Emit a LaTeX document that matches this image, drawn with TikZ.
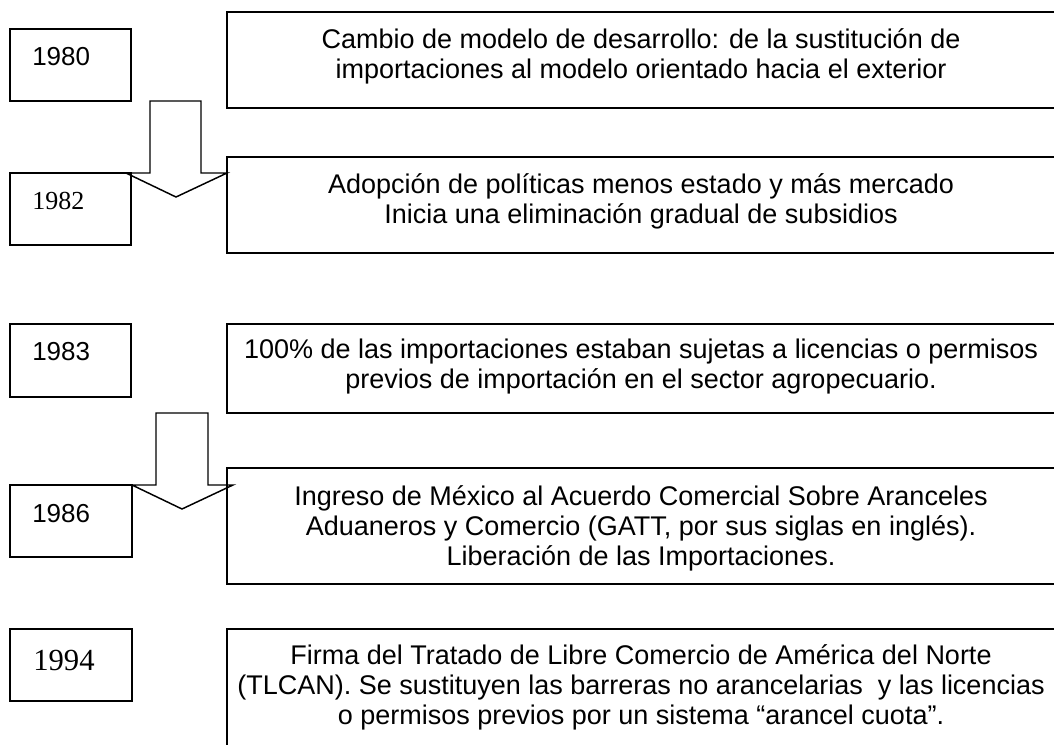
\documentclass[tikz,border=0pt]{standalone}
\usepackage{fontspec}
\setmainfont{Liberation Sans}
\newfontfamily\tnrfont{Liberation Serif}
\usetikzlibrary{fit}
\tikzset{
  frame/.style={draw, line width=1.1pt, inner sep=0pt, rectangle},
  yeartxt/.style={anchor=base west, inner sep=0pt, font=\fontsize{19.5}{22}\selectfont},
  yeartnr/.style={anchor=base west, inner sep=0pt, font=\fontsize{19.5}{22}\tnrfont},
  bodytxt/.style={anchor=north, inner sep=0pt, align=center, font=\fontsize{20.25}{22.5}\selectfont},
  blockarrow/.style={draw, line width=1.1pt, line join=miter}
}
\begin{document}
\begin{tikzpicture}[x=0.75pt, y=-0.75pt]
\useasboundingbox (0,0) rectangle (1054,744);
\clip (0,0) rectangle (1054,744);
% year boxes
\node[frame, fit={(10,29) (131,101)}] (y1980) {};
\node[frame, fit={(10,173) (131,245)}] (y1982) {};
\node[frame, fit={(10,324) (131,397)}] (y1983) {};
\node[frame, fit={(10,485) (132,557)}] (y1986) {};
\node[frame, fit={(10,629) (132,701)}] (y1994) {};
% right boxes
\node[frame, fit={(227,12) (1070,108)}] (r1) {};
\node[frame, fit={(227,157) (1070,253)}] (r2) {};
\node[frame, fit={(227,324) (1070,413)}] (r3) {};
\node[frame, fit={(227,468) (1070,584)}] (r4) {};
\node[frame, fit={(227,629) (1070,770)}] (r5) {};
% year labels
\node[yeartxt] (t1980) at (32,65) {1980};
\node[yeartnr] (t1982) at (32,209) {1982};
\node[yeartxt] (t1983) at (32,360) {1983};
\node[yeartxt] (t1986) at (32,522) {1986};
\node[anchor=base west, inner sep=0pt, font=\fontsize{23}{26}\tnrfont] (t1994) at (33,670) {1994};
% body texts
\node[bodytxt] (c1) at (641,27) {\strut Cambio de modelo de desarrollo: de la sustitución de\\importaciones al modelo orientado hacia el exterior};
\node[bodytxt] (c2) at (641,172) {\strut Adopción de políticas menos estado y más mercado\\Inicia una eliminación gradual de subsidios};
\node[bodytxt] (c3) at (641,337) {\strut 100\% de las importaciones estaban sujetas a licencias o permisos\\previos de importación en el sector agropecuario.};
\node[bodytxt] (c4) at (641,484) {\strut Ingreso de México al Acuerdo Comercial Sobre Aranceles\\Aduaneros y Comercio (GATT, por sus siglas en inglés).\\Liberación de las Importaciones.};
\node[bodytxt] (c5) at (641,643) {\strut Firma del Tratado de Libre Comercio de América del Norte\\(TLCAN). Se sustituyen las barreras no arancelarias\ \ y las licencias\\o permisos previos por un sistema “arancel cuota”.};
% block arrows
\draw[blockarrow] (150,101) -- (201,101) -- (201,173) -- (227,173) -- (176,197) -- (126,173) -- (150,173) -- cycle;
\draw[blockarrow] (156,413) -- (208,413) -- (208,485) -- (233,485) -- (182,509) -- (132,485) -- (156,485) -- cycle;
\end{tikzpicture}
\end{document}
